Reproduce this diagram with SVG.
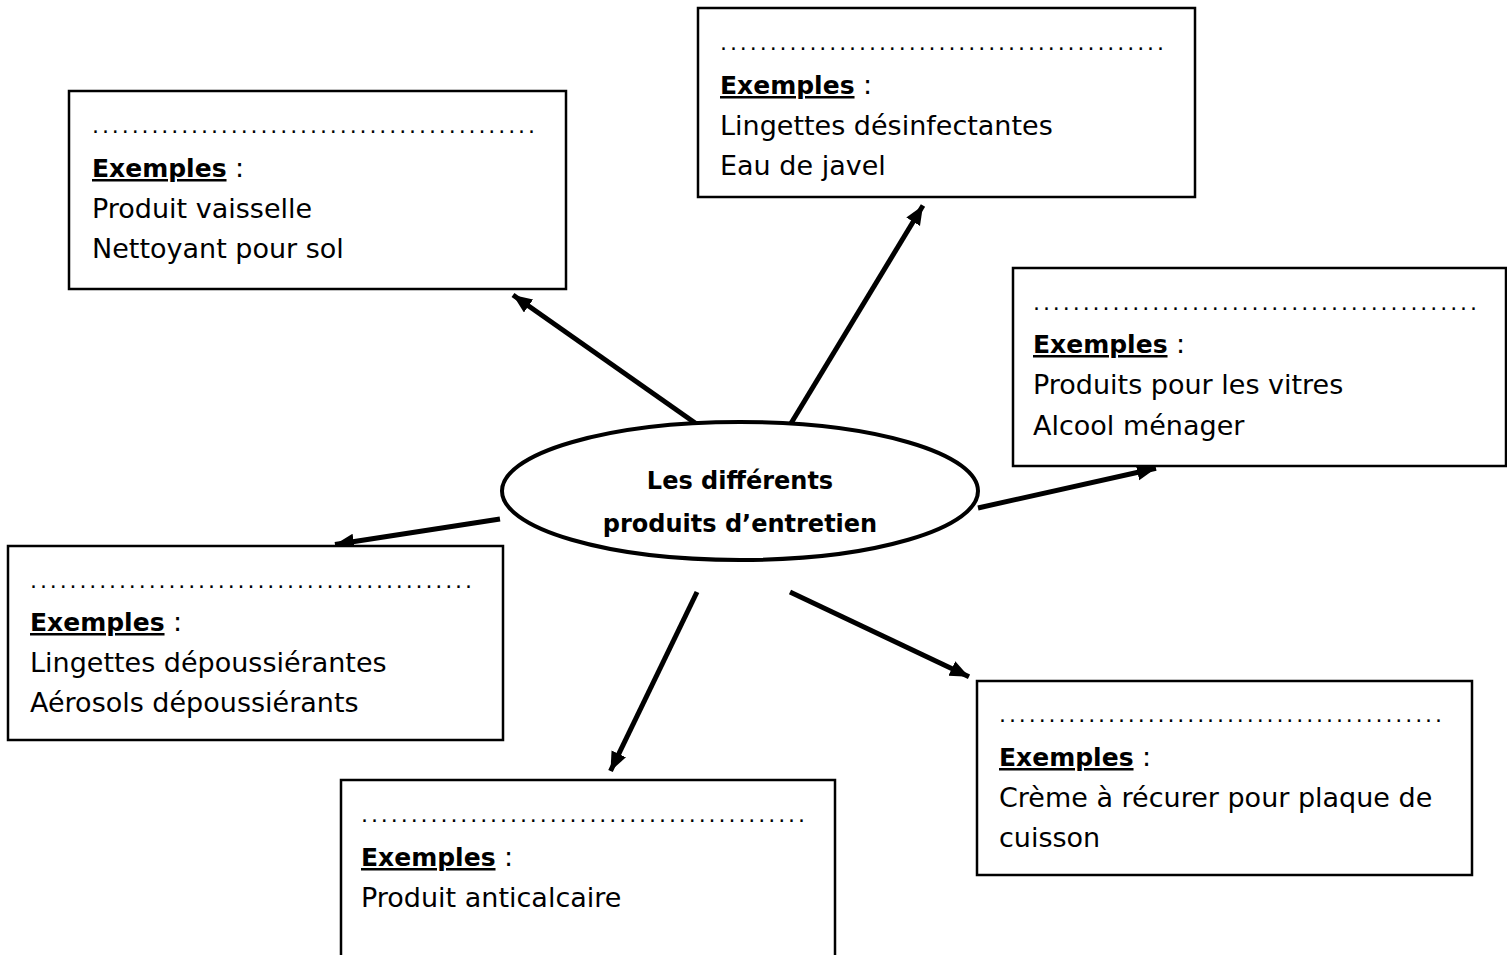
<svg xmlns="http://www.w3.org/2000/svg" width="1507" height="955" viewBox="0 0 1507 955">
<defs>
<style>
.box{fill:#fff;stroke:#000;stroke-width:2.5}
.t{font-family:"DejaVu Sans","Noto Sans",sans-serif;font-size:27px;fill:#000}
.u{font-weight:bold;text-decoration:underline;font-size:25px}
.dots{font-family:"DejaVu Sans","Noto Sans",sans-serif;font-size:22px;fill:#000}
.c{font-family:"DejaVu Sans","Noto Sans",sans-serif;font-size:24px;font-weight:bold;fill:#000;text-anchor:middle}
.arr{stroke:#000;stroke-width:5;fill:none;marker-end:url(#ah)}
</style>
<marker id="ah" markerUnits="userSpaceOnUse" markerWidth="22" markerHeight="18" refX="19" refY="8" orient="auto">
<path d="M0,0 L19,8 L0,16 z" fill="#000"/>
</marker>
</defs>
<rect width="1507" height="955" fill="#fff"/>
<g id="connectors">
<line class="arr" x1="698" y1="425" x2="513" y2="295"/>
<line class="arr" x1="790" y1="425" x2="923" y2="205.5"/>
<line class="arr" x1="978" y1="508" x2="1156" y2="468.2"/>
<line class="arr" x1="500" y1="519" x2="335" y2="544.5"/>
<line class="arr" x1="697" y1="592" x2="610.5" y2="771"/>
<line class="arr" x1="790" y1="592" x2="969" y2="676.7"/>
</g>
<g id="center">
<ellipse cx="740" cy="491" rx="238" ry="69" fill="#fff" stroke="#000" stroke-width="4"/>
<text class="c" x="740" y="489">Les différents</text>
<text class="c" x="740" y="532">produits d’entretien</text>
</g>
<g id="box1">
<rect class="box" x="69" y="91" width="497" height="198"/>
<text class="dots" x="92" y="133" textLength="443" lengthAdjust="spacing">.............................................</text>
<text class="t" x="92" y="177"><tspan class="u">Exemples</tspan> :</text>
<text class="t" x="92" y="218">Produit vaisselle</text>
<text class="t" x="92" y="258">Nettoyant pour sol</text>
</g>
<g id="box2">
<rect class="box" x="698" y="8" width="497" height="189"/>
<text class="dots" x="720" y="50" textLength="444" lengthAdjust="spacing">.............................................</text>
<text class="t" x="720" y="94"><tspan class="u">Exemples</tspan> :</text>
<text class="t" x="720" y="135">Lingettes désinfectantes</text>
<text class="t" x="720" y="175">Eau de javel</text>
</g>
<g id="box3">
<rect class="box" x="1013" y="268" width="493" height="198"/>
<text class="dots" x="1033" y="310" textLength="444" lengthAdjust="spacing">.............................................</text>
<text class="t" x="1033" y="353"><tspan class="u">Exemples</tspan> :</text>
<text class="t" x="1033" y="394">Produits pour les vitres</text>
<text class="t" x="1033" y="435">Alcool ménager</text>
</g>
<g id="box4">
<rect class="box" x="8" y="546" width="495" height="194"/>
<text class="dots" x="30" y="588" textLength="442" lengthAdjust="spacing">.............................................</text>
<text class="t" x="30" y="631"><tspan class="u">Exemples</tspan> :</text>
<text class="t" x="30" y="672">Lingettes dépoussiérantes</text>
<text class="t" x="30" y="712">Aérosols dépoussiérants</text>
</g>
<g id="box5">
<rect class="box" x="341" y="780" width="494" height="180"/>
<text class="dots" x="361" y="822" textLength="444" lengthAdjust="spacing">.............................................</text>
<text class="t" x="361" y="866"><tspan class="u">Exemples</tspan> :</text>
<text class="t" x="361" y="907">Produit anticalcaire</text>
</g>
<g id="box6">
<rect class="box" x="977" y="681" width="495" height="194"/>
<text class="dots" x="999" y="722" textLength="443" lengthAdjust="spacing">.............................................</text>
<text class="t" x="999" y="766"><tspan class="u">Exemples</tspan> :</text>
<text class="t" x="999" y="807">Crème à récurer pour plaque de</text>
<text class="t" x="999" y="847">cuisson</text>
</g>
</svg>
